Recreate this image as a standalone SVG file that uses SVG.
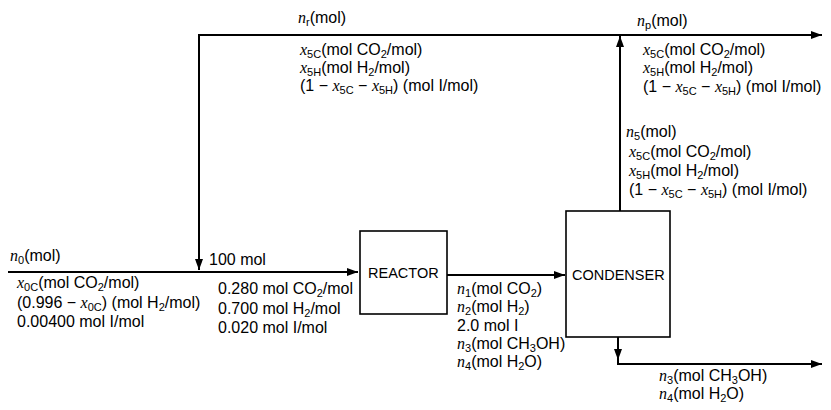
<svg xmlns="http://www.w3.org/2000/svg" width="831" height="410" viewBox="0 0 831 410">
<style>
text{font-family:"Liberation Sans",Arial,sans-serif;font-size:16px;fill:#000}
.v{font-family:"Liberation Serif","Times New Roman",serif;font-style:italic}
.sb{font-size:11px}
.box{fill:#fff;stroke:#000;stroke-width:1.6}
.lbl{font-size:14.5px}
.ln{fill:none;stroke:#000;stroke-width:2}
</style>
<defs>
<marker id="ah" markerUnits="userSpaceOnUse" markerWidth="12" markerHeight="8" refX="11" refY="4" orient="auto">
<path d="M0,0 L11,4 L0,8 z" fill="#000"/>
</marker>
</defs>
<rect width="831" height="410" fill="#fff"/>
<g id="connectors">
<path class="ln" d="M8 272 H358" marker-end="url(#ah)"/>
<path class="ln" d="M620 35 H199 V270" marker-end="url(#ah)"/>
<path class="ln" d="M620 35 H822" marker-end="url(#ah)"/>
<path class="ln" d="M620 211 V36" marker-end="url(#ah)"/>
<path class="ln" d="M447 275 H565" marker-end="url(#ah)"/>
<path class="ln" d="M618 337 V360" marker-end="url(#ah)"/>
<path class="ln" d="M618 358 V364 H822" marker-end="url(#ah)"/>
</g>
<g id="reactor">
<rect class="box" x="360" y="231" width="87" height="83"/>
<text class="lbl" x="368" y="278">REACTOR</text>
</g>
<g id="condenser">
<rect class="box" x="566" y="211" width="104" height="126"/>
<text class="lbl" x="572" y="280">CONDENSER</text>
</g>
<g id="labels">
<text x="298" y="23"><tspan class="v">n</tspan><tspan class="sb" dy="3">r</tspan><tspan dy="-3">(mol)</tspan></text>
<text x="300" y="55"><tspan class="v">x</tspan><tspan class="sb" dy="3">5C</tspan><tspan dy="-3">(mol CO</tspan><tspan class="sb" dy="3">2</tspan><tspan dy="-3">/mol)</tspan></text>
<text x="300" y="73"><tspan class="v">x</tspan><tspan class="sb" dy="3">5H</tspan><tspan dy="-3">(mol H</tspan><tspan class="sb" dy="3">2</tspan><tspan dy="-3">/mol)</tspan></text>
<text x="300" y="91">(1 − <tspan class="v">x</tspan><tspan class="sb" dy="3">5C</tspan><tspan dy="-3"> − </tspan><tspan class="v">x</tspan><tspan class="sb" dy="3">5H</tspan><tspan dy="-3">) (mol I/mol)</tspan></text>

<text x="637" y="26"><tspan class="v">n</tspan><tspan class="sb" dy="3">p</tspan><tspan dy="-3">(mol)</tspan></text>
<text x="643" y="55"><tspan class="v">x</tspan><tspan class="sb" dy="3">5C</tspan><tspan dy="-3">(mol CO</tspan><tspan class="sb" dy="3">2</tspan><tspan dy="-3">/mol)</tspan></text>
<text x="643" y="73"><tspan class="v">x</tspan><tspan class="sb" dy="3">5H</tspan><tspan dy="-3">(mol H</tspan><tspan class="sb" dy="3">2</tspan><tspan dy="-3">/mol)</tspan></text>
<text x="643" y="92">(1 − <tspan class="v">x</tspan><tspan class="sb" dy="3">5C</tspan><tspan dy="-3"> − </tspan><tspan class="v">x</tspan><tspan class="sb" dy="3">5H</tspan><tspan dy="-3">) (mol I/mol)</tspan></text>

<text x="626" y="137"><tspan class="v">n</tspan><tspan class="sb" dy="3">5</tspan><tspan dy="-3">(mol)</tspan></text>
<text x="629" y="157"><tspan class="v">x</tspan><tspan class="sb" dy="3">5C</tspan><tspan dy="-3">(mol CO</tspan><tspan class="sb" dy="3">2</tspan><tspan dy="-3">/mol)</tspan></text>
<text x="629" y="176"><tspan class="v">x</tspan><tspan class="sb" dy="3">5H</tspan><tspan dy="-3">(mol H</tspan><tspan class="sb" dy="3">2</tspan><tspan dy="-3">/mol)</tspan></text>
<text x="629" y="195">(1 − <tspan class="v">x</tspan><tspan class="sb" dy="3">5C</tspan><tspan dy="-3"> − </tspan><tspan class="v">x</tspan><tspan class="sb" dy="3">5H</tspan><tspan dy="-3">) (mol I/mol)</tspan></text>

<text x="10" y="261"><tspan class="v">n</tspan><tspan class="sb" dy="3">0</tspan><tspan dy="-3">(mol)</tspan></text>
<text x="17" y="288"><tspan class="v">x</tspan><tspan class="sb" dy="3">0C</tspan><tspan dy="-3">(mol CO</tspan><tspan class="sb" dy="3">2</tspan><tspan dy="-3">/mol)</tspan></text>
<text x="17" y="308">(0.996 − <tspan class="v">x</tspan><tspan class="sb" dy="3">0C</tspan><tspan dy="-3">) (mol H</tspan><tspan class="sb" dy="3">2</tspan><tspan dy="-3">/mol)</tspan></text>
<text x="17" y="327">0.00400 mol I/mol</text>

<text x="209" y="265">100 mol</text>
<text x="218" y="294">0.280 mol CO<tspan class="sb" dy="3">2</tspan><tspan dy="-3">/mol</tspan></text>
<text x="218" y="314">0.700 mol H<tspan class="sb" dy="3">2</tspan><tspan dy="-3">/mol</tspan></text>
<text x="218" y="333">0.020 mol I/mol</text>

<text x="457" y="294"><tspan class="v">n</tspan><tspan class="sb" dy="3">1</tspan><tspan dy="-3">(mol CO</tspan><tspan class="sb" dy="3">2</tspan><tspan dy="-3">)</tspan></text>
<text x="457" y="312"><tspan class="v">n</tspan><tspan class="sb" dy="3">2</tspan><tspan dy="-3">(mol H</tspan><tspan class="sb" dy="3">2</tspan><tspan dy="-3">)</tspan></text>
<text x="457" y="331">2.0 mol I</text>
<text x="457" y="349"><tspan class="v">n</tspan><tspan class="sb" dy="3">3</tspan><tspan dy="-3">(mol CH</tspan><tspan class="sb" dy="3">3</tspan><tspan dy="-3">OH)</tspan></text>
<text x="457" y="367"><tspan class="v">n</tspan><tspan class="sb" dy="3">4</tspan><tspan dy="-3">(mol H</tspan><tspan class="sb" dy="3">2</tspan><tspan dy="-3">O)</tspan></text>

<text x="659" y="381"><tspan class="v">n</tspan><tspan class="sb" dy="3">3</tspan><tspan dy="-3">(mol CH</tspan><tspan class="sb" dy="3">3</tspan><tspan dy="-3">OH)</tspan></text>
<text x="659" y="399"><tspan class="v">n</tspan><tspan class="sb" dy="3">4</tspan><tspan dy="-3">(mol H</tspan><tspan class="sb" dy="3">2</tspan><tspan dy="-3">O)</tspan></text>
</g>
</svg>
